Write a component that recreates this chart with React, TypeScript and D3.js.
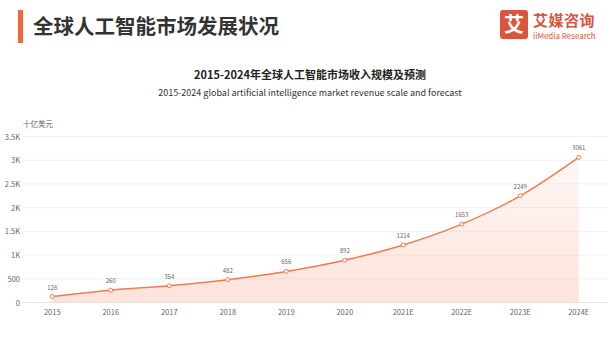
import React from "react";
import * as d3 from "d3";

const categories = ["2015", "2016", "2017", "2018", "2019", "2020", "2021E", "2022E", "2023E", "2024E"];
const revenue = [126, 260, 354, 482, 656, 892, 1214, 1653, 2249, 3061];
const yTicks = [0, 500, 1000, 1500, 2000, 2500, 3000, 3500];
const yTickLabels = ["0", "500", "1K", "1.5K", "2K", "2.5K", "3K", "3.5K"];

const W = 612;
const H = 357;
const FONT = "'Noto Sans CJK SC', 'Noto Sans', sans-serif";

export default function App() {
  const left = 23;
  const right = 608;
  const top = 136.5;
  const bottom = 302.5;

  const x = d3.scaleBand<string>().domain(categories).range([left, right]);
  const cx = (c: string) => (x(c) as number) + x.bandwidth() / 2;
  const y = d3.scaleLinear().domain([0, 3500]).range([bottom, top]);

  const pts: [number, number][] = categories.map((c, i) => [cx(c), y(revenue[i])]);
  const line = d3.line<[number, number]>().x((d) => d[0]).y((d) => d[1]).curve(d3.curveMonotoneX);
  const area = d3
    .area<[number, number]>()
    .x((d) => d[0])
    .y0(bottom)
    .y1((d) => d[1])
    .curve(d3.curveMonotoneX);

  const orange = "#f47a4e";

  return (
    <svg width={W} height={H} style={{ position: "absolute", left: 0, top: 0, background: "#fff" }} fontFamily={FONT}>
      <defs>
        <linearGradient id="areaGrad" x1="0" y1="0" x2="0" y2="1" gradientUnits="objectBoundingBox">
          <stop offset="0" stopColor="#f58a64" stopOpacity={0.06} />
          <stop offset="1" stopColor="#f58a64" stopOpacity={0.24} />
        </linearGradient>
      </defs>
      <rect width={W} height={H} fill="#fff" />

      {/* header */}
      <rect x={18} y={10} width={5} height={33} fill="#f2673a" />
      <text x={33} y={34} fontSize={20.5} fontWeight={700} fill="#333">
        全球人工智能市场发展状况
      </text>
      <rect x={500} y={10} width={28} height={29} rx={3} fill="#d9553b" />
      <text x={514} y={32} fontSize={20} fontWeight={700} fill="#fff" textAnchor="middle">
        艾
      </text>
      <text x={533} y={26} fontSize={15} fontWeight={700} fill="#d9553b" letterSpacing={0.5}>
        艾媒咨询
      </text>
      <text x={533} y={38.5} fontSize={8} fill="#d9553b">
        iiMedia Research
      </text>

      {/* titles */}
      <text x={310} y={79} fontSize={11} fontWeight={700} fill="#222" textAnchor="middle">
        2015-2024年全球人工智能市场收入规模及预测
      </text>
      <text x={310} y={96} fontSize={9} fill="#333" textAnchor="middle">
        2015-2024 global artificial intelligence market revenue scale and forecast
      </text>

      {/* unit */}
      <text x={23} y={127} fontSize={7.5} fill="#666">
        十亿美元
      </text>

      {/* grid & y labels */}
      {yTicks.map((t, i) => (
        <g key={t}>
          {t !== 0 && <line x1={left} x2={right} y1={y(t)} y2={y(t)} stroke="#f0f0f0" strokeWidth={1} />}
          <text x={20} y={y(t) + 3} fontSize={7.5} fill="#666" textAnchor="end">
            {yTickLabels[i]}
          </text>
        </g>
      ))}

      {/* area + line */}
      <path d={area(pts) || ""} fill="url(#areaGrad)" />
      <path d={line(pts) || ""} fill="none" stroke={orange} strokeWidth={1.5} />
      <line x1={left} x2={right} y1={bottom} y2={bottom} stroke="#e2e2e2" strokeWidth={1} />

      {pts.map((p, i) => (
        <g key={i}>
          <circle cx={p[0]} cy={p[1]} r={2} fill="#fff" stroke={orange} strokeWidth={1} />
          <text x={p[0]} y={p[1] - 7} fontSize={6} fill="#666" textAnchor="middle">
            {revenue[i]}
          </text>
        </g>
      ))}

      {/* x labels */}
      {categories.map((c) => (
        <text key={c} x={cx(c)} y={315} fontSize={7.5} fill="#666" textAnchor="middle">
          {c}
        </text>
      ))}
    </svg>
  );
}
